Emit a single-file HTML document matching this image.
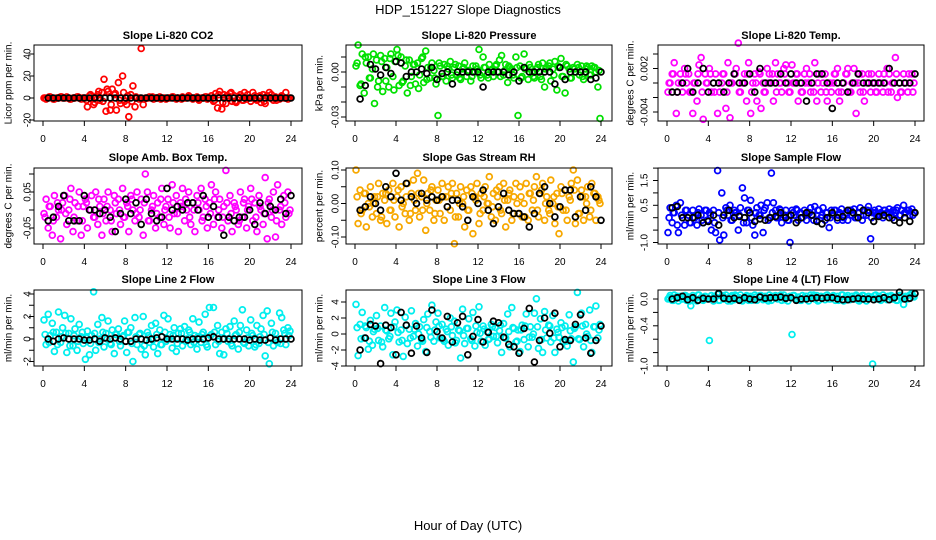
<!DOCTYPE html>
<html><head><meta charset="utf-8">
<style>
html,body{margin:0;padding:0;background:#fff;}
svg{display:block;font-family:"Liberation Sans",sans-serif;}
</style></head>
<body>
<svg id="chart" width="936" height="540" viewBox="0 0 936 540">
<rect x="0" y="0" width="936" height="540" fill="#fff"/>
<text x="468" y="14" text-anchor="middle" font-size="13">HDP_151227  Slope Diagnostics</text>
<text x="468" y="530" text-anchor="middle" font-size="13">Hour of Day (UTC)</text>
<g id="panels"></g>
</svg>
<script>
const xTicks=[0,4,8,12,16,20,24];
const co2Color=[0,-1,0,1,0,-1,0,0,1,0, 0,1,0,-1,0,0,1,0,-1,0, 0,-8,2,-1,-6,1,3,-2,5,17, -12,6,-11,8,3,-11,14,-5,20,-3, -6,-17,3,11,-8,0,-1,45,-6,0, 0,1,0,-1,0,0,1,0,0,-1, 0,0,1,0,-1,0,0,1,0,0, 2,0,-1,0,1,-2,0,0,1,-1, 0,2,-3,4,-9,6,-10,3,-5,2, 4,-3,2,-4,1,3,-2,5,-1,0, -3,5,2,-2,1,-4,3,-5,2,5, 3,-2,1,0,-1,2,0,5,-1,0];
const co2ColorB=[0,1,-1,0,1,0,-1,0,1,0, -2,3,-4,6,-3,8,-6,4,-2,5, 2,-3,1,0,-1,0,1,0,-1,0, 0,1,0,-1,0,1,0,-1,0,1, 0,-2,3,-4,2,5,-3,1,-2,3, 0,-1,2,-3,1,0,-2,1,0,0];
const co2Black=[0,0,0,0,0,0,0,0,0,0,0,0,0,0,0,0,0,0,0,0,0,0,0,0,0,0,0,0,0,0,0,0,0,0,0,0,0,0,0,0,0,0,0,0,0,0,0,0];
const presColor=[0.004,0.018,-0.009,0.012,-0.014,0.006,0.010,-0.004,0.002,-0.021, 0.008,-0.006,0.011,-0.013,0.009,0.003,-0.010,0.012,-0.003,0.007, 0.015,-0.009,0.010,-0.006,0.004,-0.014,0.008,-0.003,0.005,-0.008, 0.006,-0.002,0.009,-0.007,0.014,0.003,-0.004,0.006,0.001,-0.008, -0.029,0.004,-0.003,0.005,-0.006,0.002,0.007,-0.004,0.003,-0.002, 0.004,-0.005,0.002,0.006,-0.003,0.001,-0.006,0.004,0.000,0.002, 0.015,-0.004,0.010,0.003,-0.002,0.005,0.001,-0.003,0.004,0.000, 0.008,0.011,-0.002,0.005,-0.007,0.003,0.002,-0.004,0.010,-0.029, 0.004,-0.003,0.012,0.002,-0.005,0.003,0.000,-0.004,0.002,0.005, -0.003,0.006,-0.010,0.003,0.004,-0.006,0.002,0.007,-0.012,0.003, 0.009,-0.003,-0.014,0.004,0.002,-0.004,0.003,0.000,0.005,-0.002, 0.004,-0.005,0.002,0.003,-0.002,0.004,0.003,0.000,-0.010,-0.031];
const presColorB=[0.006,-0.008,0.010,-0.004,0.012,-0.010,0.007,-0.006,0.009,-0.012, 0.011,-0.007,0.008,-0.009,0.005,-0.011,0.010,-0.005,0.003,-0.004, 0.006,-0.003,0.004,-0.002,0.005,-0.004,0.003,0.001,-0.003,0.004, -0.002,0.003,-0.004,0.002,0.005,-0.003,0.001,0.004,-0.002,0.003, -0.004,0.002,0.005,-0.003,0.003,-0.005,0.002,0.006,-0.002,0.004, -0.003,0.005,-0.004,0.002,0.003,-0.003,0.004,-0.002,0.003,0.001];
const presBlack=[-0.018,-0.009,0.005,0.002,-0.002,0.003,-0.001,0.007,0.006,-0.003,0.000,0.000,0.002,-0.001,0.003,-0.005,-0.001,0.000,-0.008,0.000,0.000,0.000,0.000,0.000,-0.010,0.000,0.000,0.000,0.000,-0.002,0.000,-0.006,0.003,0.000,0.000,0.000,0.000,0.000,-0.008,0.003,-0.005,0.000,0.000,0.000,0.000,-0.005,-0.004,0.000];
const tempColor=[-0.00125,0,0.00125,0.0028,-0.0042,0,0.00125,-0.00125,0.002,0, 0.00125,-0.00125,-0.0042,0,-0.0025,0.0025,0.0035,-0.005,0.00125,0, 0.002,-0.00125,0,0.00125,-0.0042,-0.00125,0,0.00125,-0.0035,0.0028, -0.0048,0,0.00125,0.002,0.0055,-0.00125,0,0.00125,-0.0025,0.0028, -0.0042,0,0.00125,-0.0025,0.0015,-0.0035,0,-0.00125,0.002,0.00125, 0,-0.0025,0.0028,0.00125,0,-0.00125,0.002,0.0025,0,-0.00125, 0.0025,0,0.00125,-0.0025,0,-0.00125,0.00125,0.002,0,-0.00125, 0,0.0028,-0.0025,0.00125,-0.00125,0,0.00125,-0.0025,0,-0.00125, 0,0.00125,0.002,-0.0025,-0.00125,0,0.00125,0.002,-0.00125,0, 0.002,-0.0042,0,-0.00125,0.00125,-0.0025,0,0.00125,-0.00125,0, 0,-0.00125,0.00125,0,-0.00125,0,0.002,0.00125,-0.00125,0, 0.0035,-0.002,0,-0.00125,0.00125,0,-0.00125,0,0.00125,0];
const tempColorB=[0,0.00125,-0.00125,0,0.00125,-0.00125,0,0.00125,-0.00125,0, 0.00125,-0.00125,0,0.00125,-0.00125,0,0.00125,-0.00125,0,0.00125, -0.00125,0,0.00125,-0.00125,0,0.00125,-0.00125,0,0.00125,-0.00125, 0,0.00125,-0.00125,0,0.00125,-0.00125,0,0.00125,-0.00125,0, 0.00125,-0.00125,0,0.00125,-0.00125,0,0.00125,-0.00125,0,0.00125, -0.00125,0,0.00125,-0.00125,0,0.00125,-0.00125,0,0.00125,-0.00125];
const tempBlack=[-0.00125,-0.00125,0,0.002,-0.00125,0,0.002,-0.00125,0,0,-0.00125,0,0.00125,0,0,0.00125,-0.00125,0.002,0,0,0,0.00125,0,0.00125,0,0,-0.0025,0,0.00125,0.00125,0,-0.0035,0,0,-0.00125,0,0.00125,0,0,0,0,0,0.002,0,0,0,0,0.00125];
const ambColor=[-0.01,0.03,-0.05,0.01,-0.07,0.04,-0.02,0.0,-0.08,0.02, 0.04,-0.04,0.0,0.06,-0.06,0.02,-0.03,0.05,-0.07,0.01, 0.03,-0.05,0.0,0.04,-0.02,0.05,-0.04,0.01,-0.07,0.03, -0.03,0.05,0.0,-0.06,0.04,-0.01,0.03,-0.04,0.06,-0.02, 0.02,-0.06,0.04,0.0,-0.03,0.05,-0.02,0.03,-0.07,0.1, 0.05,-0.03,0.0,0.04,-0.05,0.02,-0.02,0.06,-0.04,0.01, 0.03,-0.05,0.07,-0.01,0.04,-0.06,0.02,0.06,-0.03,0.0, 0.05,-0.04,0.02,-0.06,0.04,0.0,0.06,-0.02,0.03,-0.05, 0.02,0.07,-0.04,0.05,-0.02,0.03,-0.05,0.01,0.11,-0.03, 0.04,-0.06,0.02,0.0,-0.04,0.05,-0.02,0.03,-0.05,0.01, 0.06,-0.03,0.02,-0.06,0.04,0.0,-0.04,0.09,-0.08,0.03, -0.02,0.05,-0.075,0.07,0.0,-0.04,0.04,-0.02,0.05,0.0];
const ambColorB=[-0.02,0.01,-0.03,0.02,0.0,-0.01,0.03,-0.02,0.01,-0.03, 0.02,0.0,-0.02,0.03,-0.01,0.01,-0.03,0.02,0.0,-0.02, 0.01,0.03,-0.01,0.0,0.02,-0.03,0.01,-0.01,0.03,0.0, -0.02,0.02,-0.01,0.01,0.03,-0.02,0.0,0.02,-0.03,0.01, -0.01,0.03,0.0,-0.02,0.02,-0.01,0.01,-0.03,0.02,0.0, 0.03,-0.02,0.01,-0.01,0.02,0.0,-0.03,0.01,0.02,-0.01];
const ambBlack=[-0.03,-0.02,0.01,0.04,-0.03,-0.03,-0.03,0.04,0.0,0.0,-0.01,0.0,-0.02,-0.06,-0.01,0.03,-0.01,0.02,-0.04,0.03,-0.01,-0.03,-0.02,0.06,0.0,0.01,0.0,0.02,0.02,0.0,0.04,-0.02,0.01,-0.02,-0.07,-0.02,-0.03,-0.02,-0.02,0.0,-0.04,0.02,-0.01,0.01,0.0,0.03,-0.01,0.04];
const rhColor=[0.10,-0.06,0.04,-0.02,0.03,-0.07,0.0,0.05,-0.04,0.02, -0.03,0.06,-0.05,0.03,0.01,-0.06,0.04,-0.02,0.06,-0.04, 0.02,-0.07,0.05,0.0,-0.03,0.06,-0.05,0.03,0.07,-0.02, 0.09,-0.04,0.02,0.07,-0.08,0.03,-0.02,0.05,-0.05,0.01, 0.04,-0.03,0.06,-0.05,0.02,0.05,-0.02,0.06,-0.12,0.03, -0.04,0.05,0.0,-0.07,0.04,-0.02,0.05,-0.09,0.02,0.06, -0.06,0.03,-0.02,0.05,0.0,0.08,-0.04,0.03,-0.05,0.02, 0.05,-0.03,0.06,-0.07,0.01,0.04,-0.05,0.02,0.06,-0.03, 0.05,-0.04,0.0,0.06,-0.05,0.03,-0.02,0.05,0.08,-0.04, 0.03,0.06,-0.05,0.02,-0.02,0.07,0.0,-0.06,0.03,-0.09, 0.05,-0.02,0.04,-0.05,0.02,0.06,0.10,-0.06,0.07,-0.03, 0.04,-0.05,0.02,0.05,-0.04,0.06,0.03,-0.05,0.02,0.0];
const rhColorB=[0.02,-0.03,0.03,-0.01,0.0,0.02,-0.04,0.03,-0.02,0.01, 0.04,-0.01,0.02,-0.03,0.01,0.03,-0.02,0.0,0.04,-0.03, 0.01,0.02,-0.01,0.03,-0.04,0.0,0.02,-0.02,0.03,0.01, -0.03,0.02,0.0,-0.01,0.04,-0.02,0.01,0.03,-0.03,0.0, 0.02,-0.04,0.03,0.01,-0.02,0.04,0.0,-0.03,0.02,-0.01, 0.03,-0.02,0.01,0.04,-0.03,0.02,0.0,-0.02,0.03,0.01];
const rhBlack=[-0.02,-0.01,0.02,0.0,-0.02,0.05,0.02,0.09,0.01,0.06,0.02,0.0,0.03,0.01,0.02,0.01,0.02,-0.01,0.01,0.01,-0.01,-0.05,0.02,0.0,0.04,-0.02,-0.06,-0.01,0.03,-0.02,-0.03,-0.03,-0.04,-0.07,-0.03,0.03,0.05,0.0,-0.04,-0.01,0.04,0.04,-0.04,0.02,-0.02,0.05,0.02,-0.05];
const flowColor=[-0.6,0.4,-0.2,0.2,0.5,-0.6,0.6,0.0,-0.3,0.3, 0.1,-0.2,0.3,0.0,-0.3,0.35,0.1,-0.2,0.3,-0.1, 0.2,-0.5,0.3,-0.6,1.9,-0.9,1.0,-0.7,0.4,0.1, 0.5,-0.1,0.3,0.2,-0.5,0.4,1.2,0.8,-0.2,0.3, 0.7,-0.3,-0.7,0.4,0.1,0.5,-0.6,0.4,0.6,0.0, 1.8,0.6,0.3,0.0,0.35,-0.2,0.1,0.3,-0.1,-1.0, 0.3,0.1,0.35,-0.1,0.2,0.0,0.3,-0.1,0.2,0.4, 0.1,0.45,-0.1,0.3,0.0,0.4,-0.1,0.2,-0.4,0.3, 0.1,0.3,-0.1,0.2,0.35,0.0,0.2,-0.1,0.3,0.1, 0.35,0.0,0.2,0.4,-0.1,0.3,0.1,0.45,-0.85,0.2, 0.3,0.1,0.35,0.2,0.0,0.3,0.2,0.35,0.1,0.3, 0.2,0.4,0.1,0.3,0.5,0.2,0.3,0.1,0.35,0.2];
const flowColorB=[0.0,0.2,-0.3,0.1,0.3,-0.2,0.0,0.2,-0.1,0.3, 0.1,-0.2,0.2,0.0,0.3,-0.1,0.2,0.1,-0.2,0.3, 0.0,0.2,0.1,0.3,-0.1,0.2,0.0,0.3,0.1,-0.1, 0.2,0.3,0.0,0.1,0.2,-0.1,0.3,0.1,0.2,0.0, 0.3,0.1,-0.1,0.2,0.3,0.0,0.2,0.1,0.3,0.0, 0.2,0.1,0.3,0.2,0.0,0.3,0.1,0.2,0.3,0.1];
const flowBlack=[0.4,0.45,0.0,0.0,0.0,0.1,-0.2,-0.15,0.1,-0.3,0.1,0.3,0.0,0.05,0.0,0.2,-0.15,-0.05,-0.1,0.0,0.05,0.2,0.0,0.1,-0.2,0.0,0.2,0.1,-0.15,-0.25,0.0,0.2,0.0,0.05,0.3,0.2,0.0,0.3,0.2,-0.15,0.05,0.1,0.0,-0.1,-0.2,0.0,-0.15,0.2];
const line2Color=[1.7,-0.5,2.2,0.3,1.4,-1.1,0.6,2.4,-0.3,1.0, 2.1,-1.2,0.5,1.8,-0.6,0.9,-1.0,1.3,0.2,-0.4, -1.8,0.7,-1.4,0.3,4.2,-1.0,1.3,0.0,1.9,-0.7, 0.5,1.6,-0.4,0.8,-1.3,0.4,0.9,-0.6,0.2,1.6, -1.2,0.6,1.0,-2.0,1.9,-0.5,0.4,-0.9,2.0,-1.4, 0.6,-0.3,1.2,-0.7,1.4,-1.3,0.8,-0.5,2.1,-0.2, 1.8,0.4,-0.8,1.0,-1.1,0.5,0.9,-0.6,1.1,0.0, 0.8,-0.5,1.8,0.3,-0.9,1.5,-0.3,0.6,2.2,-0.7, 2.8,0.4,2.8,-0.5,1.2,-1.3,0.6,-1.4,0.9,-0.2, 1.1,-0.6,1.6,0.4,-0.9,1.2,2.6,-0.4,0.8,-0.6, 1.7,0.3,-0.7,1.2,-0.4,0.9,2.1,-1.5,2.5,-2.2, 1.4,-0.6,0.5,-0.3,2.3,1.9,0.8,-0.5,1.0,0.7];
const line2ColorB=[0.4,-0.3,0.6,-0.5,0.2,0.5,-0.6,0.3,-0.2,0.6, 0.1,-0.4,0.5,-0.3,0.6,0.0,-0.5,0.4,-0.2,0.3, 0.6,-0.4,0.2,0.5,-0.6,0.3,-0.1,0.4,-0.5,0.6, 0.0,0.3,-0.4,0.5,-0.2,0.6,-0.3,0.2,0.4,-0.5, 0.3,0.6,-0.2,0.0,0.5,-0.4,0.3,0.6,-0.3,0.1, 0.5,-0.5,0.2,0.4,-0.3,0.6,0.0,-0.4,0.5,0.3];
const line2Black=[0,-0.2,0,0.1,0,0,0,-0.1,-0.1,0,-0.2,0.1,0,0.1,0,-0.2,-0.2,0,0,-0.1,0,0.1,0.2,0,0,0,0,-0.1,0,0,0,0.1,0.2,0,0,0,0,0,0,-0.1,0,-0.1,-0.1,0.1,-0.1,0,0,0];
const line3Color=[3.7,-2.7,1.2,2.7,-0.5,0.8,-1.9,1.7,-1.4,0.6, 2.3,-0.8,1.0,-1.6,3.3,0.4,-0.6,2.6,-2.6,1.5, 3.0,-1.0,0.5,-2.8,2.1,-1.2,0.6,2.9,-0.3,1.3, -1.5,0.9,-0.7,1.8,-2.2,2.5,0.3,3.6,-0.9,1.5, 2.6,-0.5,1.2,-0.9,0.6,-1.4,2.0,-0.2,1.6,-0.8, 0.5,-3.0,3.1,-1.2,0.7,1.9,-0.6,2.7,-1.5,0.2, 3.4,-0.9,1.0,-1.4,0.3,-0.6,1.2,-0.3,0.8,-1.1, 0.4,-2.3,1.3,-0.5,2.5,-1.6,3.3,0.7,-1.0,0.5, -2.2,1.1,-0.7,2.5,-1.6,0.9,-0.4,2.6,4.4,-1.8, 1.9,-2.3,2.8,-0.5,1.1,-1.0,2.3,-2.3,0.6,-0.4, 1.4,-0.9,1.0,-1.5,2.4,-0.6,-3.5,0.9,5.2,-0.7, 2.6,-1.6,1.2,-0.3,3.0,-2.3,0.9,3.5,-0.5,1.2];
const line3ColorB=[0.8,-0.6,1.0,-0.9,0.3,0.7,-1.0,0.5,-0.3,0.9, 0.2,-0.8,1.1,-0.5,0.6,0.0,-0.9,0.8,-0.4,0.5, 1.0,-0.7,0.3,0.9,-1.1,0.4,-0.2,0.7,-0.8,1.0, 0.1,0.6,-0.7,0.9,-0.3,1.1,-0.5,0.3,0.8,-0.9, 0.5,1.0,-0.4,0.0,0.9,-0.7,0.5,1.0,-0.5,0.2, 0.8,-0.9,0.4,0.7,-0.6,1.0,0.0,-0.8,0.9,0.5];
const line3Black=[-2.0,-0.5,1.2,1.0,-3.7,1.1,0.8,-2.6,2.7,1.1,-2.4,1.0,-0.5,-2.3,3.0,0.3,-0.5,2.2,-1.0,1.4,2.2,-2.6,-0.3,1.8,-1.0,0.2,1.6,1.4,-0.4,-1.3,-1.6,-2.4,0.7,3.2,-3.5,-0.8,2.0,0.1,2.6,-1.6,-0.7,-0.8,1.2,2.4,-0.5,-2.4,-0.8,1.0];
const line4Color=[0.0,0.05,-0.02,0.06,0.01,-0.03,0.04,0.0,0.05,-0.02, 0.03,-0.1,0.05,0.0,-0.03,0.06,0.02,-0.02,0.04,0.0, -0.62,0.05,-0.03,0.03,0.07,-0.02,0.04,0.0,0.06,-0.03, 0.03,0.05,-0.01,0.04,0.0,0.06,-0.03,0.02,0.05,-0.02, 0.04,0.0,0.06,-0.02,0.03,0.05,-0.01,0.04,0.0,0.06, -0.02,0.04,0.05,0.0,0.03,-0.02,0.06,0.02,-0.03,0.04, -0.53,0.05,0.0,0.03,-0.02,0.05,0.01,0.04,-0.03,0.06, 0.02,0.0,0.05,-0.02,0.04,0.03,-0.01,0.06,0.0,0.03, 0.05,-0.02,0.04,0.0,0.06,-0.03,0.03,0.05,-0.01,0.04, 0.0,0.06,-0.02,0.03,0.05,0.0,-0.03,0.04,0.02,-0.97, 0.05,0.0,0.04,-0.02,0.06,0.02,-0.01,0.04,0.05,0.0, 0.03,-0.02,0.05,0.01,-0.08,0.04,0.0,0.06,0.08,0.03];
const line4ColorB=[0.02,-0.02,0.04,0.0,0.05,-0.03,0.02,0.06,-0.01,0.03, 0.0,0.04,-0.02,0.05,0.01,-0.03,0.06,0.02,0.0,0.04, -0.02,0.03,0.05,0.0,-0.03,0.04,0.02,0.06,-0.01,0.03, 0.05,0.0,-0.02,0.04,0.02,0.06,-0.03,0.01,0.05,0.0, 0.03,-0.02,0.06,0.02,0.0,0.04,-0.03,0.05,0.01,0.03, 0.06,-0.01,0.02,0.04,0.0,-0.02,0.05,0.03,0.01,0.04];
const line4Black=[0,0.02,0.04,-0.01,0.02,-0.02,0.01,0.0,0.0,0.08,0.01,0.0,0.01,-0.02,0.02,0.0,-0.01,0.03,0.01,0.02,0.02,0.03,0.01,0.02,-0.02,0.0,0.0,0.01,0.02,0.01,0.02,0.02,0.0,-0.01,-0.01,0.0,0.01,0.0,0.0,-0.01,0.0,0.02,-0.01,0.02,0.1,0.0,0.01,0.08];

const colorHourStep=0.2, colorHourStart=0.1, colorBHourStep=0.4, colorBHourStart=0.2, blackHourStep=0.5, blackHourStart=0.5;

const cols=[{bx0:34,bx1:302,h0:43,h24:291,tlx:28,ylx:9},{bx0:346,bx1:612,h0:355,h24:601,tlx:336,ylx:320},{bx0:658,bx1:924,h0:667,h24:915,tlx:645,ylx:631}];
const rows=[{by0:45,by1:121,ty:39,xly:142},{by0:168,by1:244,ty:161,xly:265},{by0:290,by1:366,ty:283,xly:387}];

const panels=[
 {name:'co2',title:'Slope Li-820 CO2',ylab:'Licor ppm per min.',col:0,row:0,color:'#ff0000',cdata:co2Color,cdataB:co2ColorB,bdata:co2Black,v0:0,p0:98,v1:40,p1:54,yt:[40,20,0,-20],yl:['40','20','0','-20']},
 {name:'pressure',title:'Slope Li-820 Pressure',ylab:'kPa per min.',col:1,row:0,color:'#00e000',cdata:presColor,cdataB:presColorB,bdata:presBlack,v0:0,p0:72,v1:-0.03,p1:117,yt:[0.01,0,-0.01,-0.02,-0.03],yl:['','0.00','','','-0.03']},
 {name:'li820-temp',title:'Slope Li-820 Temp.',ylab:'degrees C per min.',col:2,row:0,color:'#ff00ff',cdata:tempColor,cdataB:tempColorB,bdata:tempBlack,v0:0,p0:83,v1:-0.004,p1:112,yt:[0.004,0.002,0,-0.002,-0.004],yl:['','0.002','','','-0.004']},
 {name:'amb-box-temp',title:'Slope Amb. Box Temp.',ylab:'degrees C per min.',col:0,row:1,color:'#ff00ff',cdata:ambColor,cdataB:ambColorB,bdata:ambBlack,v0:0,p0:210,v1:0.05,p1:192,yt:[0.1,0.05,0,-0.05],yl:['','0.05','','-0.05']},
 {name:'gas-stream-rh',title:'Slope Gas Stream RH',ylab:'percent per min.',col:1,row:1,color:'#f7a800',cdata:rhColor,cdataB:rhColorB,bdata:rhBlack,v0:0,p0:203.5,v1:0.1,p1:170,yt:[0.1,0.05,0,-0.05,-0.1],yl:['0.10','','0.00','','-0.10']},
 {name:'sample-flow',title:'Slope Sample Flow',ylab:'ml/min per min.',col:2,row:1,color:'#0000ff',cdata:flowColor,cdataB:flowColorB,bdata:flowBlack,v0:0,p0:217.7,v1:0.5,p1:205.3,yt:[2,1.5,1,0.5,0,-0.5,-1],yl:['','1.5','','0.5','','','-1.0']},
 {name:'line2-flow',title:'Slope Line 2 Flow',ylab:'ml/min per min.',col:0,row:2,color:'#00eeee',cdata:line2Color,cdataB:line2ColorB,bdata:line2Black,v0:0,p0:339,v1:4,p1:294,yt:[4,3,2,1,0,-1,-2],yl:['4','','2','','0','','-2']},
 {name:'line3-flow',title:'Slope Line 3 Flow',ylab:'ml/min per min.',col:1,row:2,color:'#00eeee',cdata:line3Color,cdataB:line3ColorB,bdata:line3Black,v0:0,p0:334,v1:4,p1:302,yt:[4,2,0,-2,-4],yl:['4','2','0','-2','-4']},
 {name:'line4-flow',title:'Slope Line 4 (LT) Flow',ylab:'ml/min per min.',col:2,row:2,color:'#00eeee',cdata:line4Color,cdataB:line4ColorB,bdata:line4Black,v0:0,p0:299,v1:-1,p1:366,yt:[0,-0.2,-0.4,-0.6,-0.8,-1.0],yl:['0.0','','-0.4','','','-1.0']}
];

const NS='http://www.w3.org/2000/svg';
const root=document.getElementById('panels');
function mk(tag,attrs,parent){const e=document.createElementNS(NS,tag);for(const k in attrs)e.setAttribute(k,attrs[k]);parent.appendChild(e);return e;}

panels.forEach(p=>{
 const c=cols[p.col], r=rows[p.row];
 const xs=h=>c.h0+(h)*(c.h24-c.h0)/24;
 const ys=v=>p.p0+(v-p.v0)*(p.p1-p.p0)/(p.v1-p.v0);
 const g=mk('g',{},root);
 
 
 const t=mk('text',{x:(c.bx0+c.bx1)/2,y:r.ty,'text-anchor':'middle','font-size':'11','font-weight':'bold'},g);
 t.textContent=p.title;
 
 
 const yl=mk('text',{x:c.ylx,y:(r.by0+r.by1)/2,'text-anchor':'middle','dominant-baseline':'central','font-size':'10',transform:'rotate(-90 '+c.ylx+' '+((r.by0+r.by1)/2)+')'},g);
 yl.textContent=p.ylab;
 
 
 const pts=mk('g',{fill:'none','stroke-width':'1.8'},g);
 
 
 function drawColor(arr,start,step){
  arr.forEach((v,i)=>{
   const cy=ys(v); if(cy<r.by0-2||cy>r.by1+2) return;
   const e=mk('circle',{cx:xs(start+i*step).toFixed(1),cy:cy.toFixed(1),r:'2.9',stroke:p.color},pts);
   
   
  });
 }
 drawColor(p.cdata,colorHourStart,colorHourStep);
 drawColor(p.cdataB,colorBHourStart,colorBHourStep);
 p.bdata.forEach((v,i)=>{
  const e=mk('circle',{cx:xs(blackHourStart+i*blackHourStep).toFixed(1),cy:ys(v).toFixed(1),r:'2.9',stroke:'#000'},pts);
  
  
 });
 const b=mk('rect',{x:c.bx0,y:r.by0,width:c.bx1-c.bx0,height:r.by1-r.by0,fill:'none',stroke:'#000','stroke-width':'1'},g);
 
 
 const xa=mk('g',{stroke:'#000','stroke-width':'1'},g);
 
 
 mk('line',{x1:xs(xTicks[0]),x2:xs(xTicks[xTicks.length-1]),y1:r.by1,y2:r.by1},xa);
 xTicks.forEach(h=>{
  mk('line',{x1:xs(h),x2:xs(h),y1:r.by1,y2:r.by1+5},xa);
  const tl=mk('text',{x:xs(h),y:r.xly,'text-anchor':'middle','font-size':'10',stroke:'none',fill:'#000'},xa);
  tl.textContent=String(h);
  
  
 });
 const ya=mk('g',{stroke:'#000','stroke-width':'1'},g);
 
 
 mk('line',{x1:c.bx0,x2:c.bx0,y1:ys(p.yt[0]),y2:ys(p.yt[p.yt.length-1])},ya);
 p.yt.forEach((v,i)=>{
  const y=ys(v);
  mk('line',{x1:c.bx0-5,x2:c.bx0,y1:y,y2:y},ya);
  if(p.yl[i]){
   const tl=mk('text',{x:c.tlx,y:y,'text-anchor':'middle','dominant-baseline':'central','font-size':'10',stroke:'none',fill:'#000',transform:'rotate(-90 '+c.tlx+' '+y+')'},ya);
   tl.textContent=p.yl[i];
   
   
  }
 });
});
</script>
</body></html>
